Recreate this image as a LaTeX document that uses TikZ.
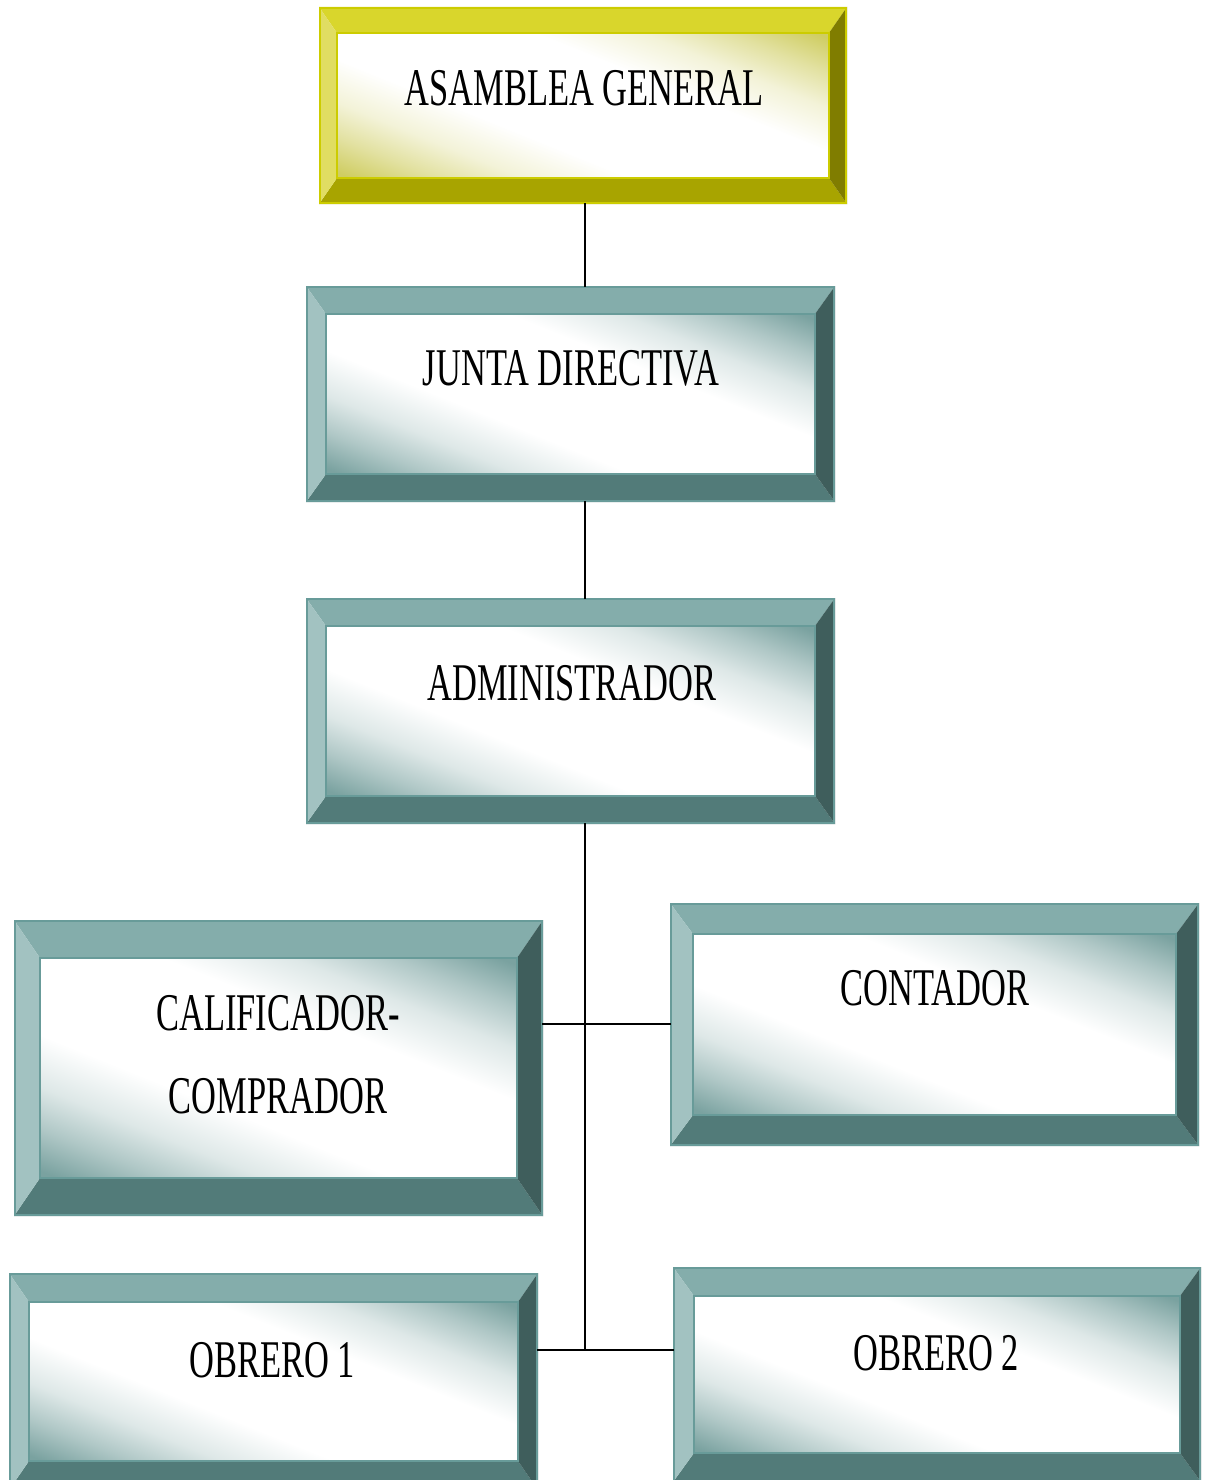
\documentclass[tikz,border=0pt]{standalone}
\usepackage{fontspec}
\setmainfont{Liberation Serif}
\definecolor{tealtop}{HTML}{84ADAB}
\definecolor{tealbot}{HTML}{527B79}
\definecolor{teallft}{HTML}{A2C2C1}
\definecolor{tealrgt}{HTML}{3F5E5C}
\definecolor{tealline}{HTML}{689B99}
\definecolor{tealface}{HTML}{7AA2A0}
\definecolor{yeltop}{HTML}{D9D62C}
\definecolor{yelbot}{HTML}{A8A400}
\definecolor{yellft}{HTML}{E0DD62}
\definecolor{yelrgt}{HTML}{807D00}
\definecolor{yelline}{HTML}{CCCC00}
\definecolor{yelface}{HTML}{CFCD62}
\pgfdeclareverticalshading{tealband}{100bp}{color(0bp)=(tealface); color(26.25bp)=(tealface); color(31.25bp)=(tealface!60!white); color(36.25bp)=(tealface!25!white); color(42.5bp)=(white); color(57.5bp)=(white); color(63.75bp)=(tealface!25!white); color(68.75bp)=(tealface!60!white); color(73.75bp)=(tealface); color(100bp)=(tealface)}
\pgfdeclareverticalshading{yelband}{100bp}{color(0bp)=(yelface); color(26.25bp)=(yelface); color(31.25bp)=(yelface!60!white); color(36.25bp)=(yelface!25!white); color(42.5bp)=(white); color(57.5bp)=(white); color(63.75bp)=(yelface!25!white); color(68.75bp)=(yelface!60!white); color(73.75bp)=(yelface); color(100bp)=(yelface)}
% name x1 y1 x2 y2 bevelx bevely scheme
\newcommand\bevbox[8]{%
  \fill[#8top] (#2,#3) -- (#4,#3) -- (#4-#6,#3+#7) -- (#2+#6,#3+#7) -- cycle;
  \fill[#8bot] (#2,#5) -- (#4,#5) -- (#4-#6,#5-#7) -- (#2+#6,#5-#7) -- cycle;
  \fill[#8lft] (#2,#3) -- (#2+#6,#3+#7) -- (#2+#6,#5-#7) -- (#2,#5) -- cycle;
  \fill[#8rgt] (#4,#3) -- (#4-#6,#3+#7) -- (#4-#6,#5-#7) -- (#4,#5) -- cycle;
  \begin{scope}
    \clip (#2+#6,#3+#7) rectangle (#4-#6,#5-#7);
    \pgfmathsetmacro\fw{(#4-#2-2*#6)/2}%
    \pgfmathsetmacro\fh{(#5-#3-2*#7)/2}%
    \pgfmathsetmacro\fH{\fw*sin(22)+\fh*cos(22)+3}%
    \begin{scope}[transform canvas={shift={({(#2+#4)/2},{(#3+#5)/2})}, rotate=-22}]
      \shade[shading=#8band] (-\fw-\fH,-\fH) rectangle (\fw+\fH,\fH);
    \end{scope}
  \end{scope}
  \draw[#8line, line width=2.5pt] (#2+#6,#3+#7) rectangle (#4-#6,#5-#7);
  \node[draw=#8line, line width=2pt, inner sep=0pt, outer sep=0pt,
    minimum width={(#4-#2-2)*1pt}, minimum height={(#5-#3-2)*1pt}]
    (#1) at ({(#2+#4)/2},{(#3+#5)/2}) {};
}
\newcommand\lbltext[1]{\scalebox{0.65}[1]{\begin{tabular}[t]{@{}c@{}}#1\end{tabular}}}
\tikzset{
  lbl/.style={inner sep=0pt, anchor=base, text=black, font=\fontsize{53}{83}\selectfont},
  conn/.style={line width=2pt, black}
}
\begin{document}
\begin{tikzpicture}[x=1pt,y=-1pt]
\clip (0,0) rectangle (1205,1480);
\fill[white] (0,0) rectangle (1205,1480);
\coordinate (trunk) at (585,0);
\coordinate (jA) at (585,1024);
\coordinate (jB) at (585,1350);
\bevbox{asam}{319}{7}{847}{204}{18}{26}{yel}
\bevbox{junta}{306}{286}{835}{502}{20}{28}{teal}
\bevbox{admin}{306}{598}{835}{824}{20}{28}{teal}
\bevbox{calif}{14}{920}{543}{1216}{26}{38}{teal}
\bevbox{cont}{670}{903}{1199}{1146}{23}{31}{teal}
\bevbox{obr1}{9}{1273}{538}{1490}{20}{29}{teal}
\bevbox{obr2}{673}{1267}{1201}{1482}{21}{29}{teal}
\draw[conn] (asam.south -| trunk) -- (junta.north -| trunk);
\draw[conn] (junta.south -| trunk) -- (admin.north -| trunk);
\draw[conn] (admin.south -| trunk) -- (jB);
\draw[conn] (calif.east |- jA) -- (cont.west |- jA);
\draw[conn] (obr1.east |- jB) -- (obr2.west |- jB);
% labels
\node[lbl] (asam-t) at (584,105) {\lbltext{ASAMBLEA GENERAL}};
\node[lbl] (junta-t) at (571,385) {\lbltext{JUNTA DIRECTIVA}};
\node[lbl] (admin-t) at (572,700) {\lbltext{ADMINISTRADOR}};
\node[lbl] (calif-t) at (278,1030) {\lbltext{CALIFICADOR-\\COMPRADOR}};
\node[lbl] (cont-t) at (935,1005) {\lbltext{CONTADOR}};
\node[lbl] (obr1-t) at (272,1377) {\lbltext{OBRERO 1}};
\node[lbl] (obr2-t) at (936,1370) {\lbltext{OBRERO 2}};
\end{tikzpicture}
\end{document}
